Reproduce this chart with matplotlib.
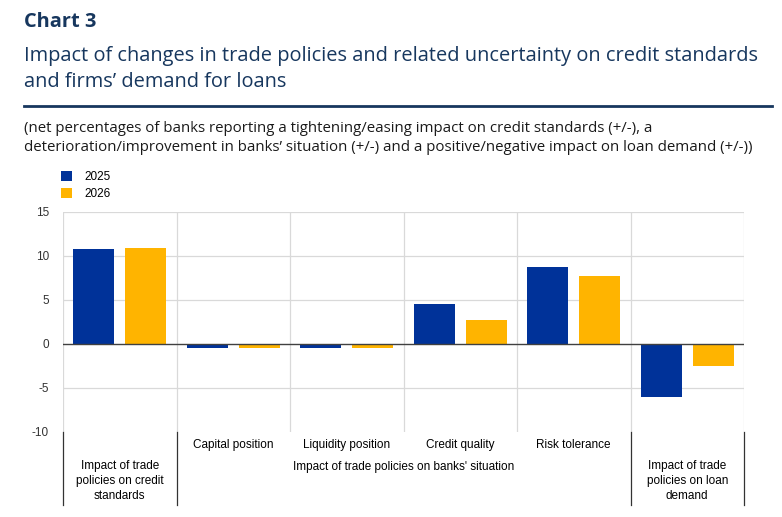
import matplotlib.pyplot as plt
import numpy as np

plt.rcParams['font.family'] = ['Liberation Sans', 'DejaVu Sans']

# data
categories = ["Impact of trade\npolicies on credit\nstandards", "Capital position", "Liquidity position",
              "Credit quality", "Risk tolerance", "Impact of trade\npolicies on loan\ndemand"]
vals_2025 = [10.8, -0.4, -0.4, 4.5, 8.7, -6.0]
vals_2026 = [10.9, -0.4, -0.4, 2.7, 7.7, -2.5]
group_label = "Impact of trade policies on banks' situation"
yticks = [-10, -5, 0, 5, 10, 15]

blue = '#003299'
yellow = '#ffb400'
navy = '#17375e'

W, H = 782, 517
fig = plt.figure(figsize=(W / 100, H / 100), dpi=100)

# header
fig.text(24 / W, 1 - 22 / H, "Chart 3", family='Open Sans', weight='bold', fontsize=14.4,
         color=navy, va='center')
fig.text(24 / W, 1 - 69 / H,
         "Impact of changes in trade policies and related uncertainty on credit standards\n"
         "and firms\u2019 demand for loans",
         family='Open Sans', fontsize=14.4, color=navy, va='center', linespacing=1.45)
fig.add_artist(plt.Line2D([24 / W, 772 / W], [1 - 106 / H, 1 - 106 / H], color=navy, lw=2))
fig.text(24 / W, 1 - 138 / H,
         "(net percentages of banks reporting a tightening/easing impact on credit standards (+/-), a\n"
         "deterioration/improvement in banks\u2019 situation (+/-) and a positive/negative impact on loan demand (+/-))",
         family='Open Sans', fontsize=10.8, color='#1a1a1a', va='center', linespacing=1.3)

# plot area
ax = fig.add_axes([63 / W, (H - 432) / H, 681 / W, 220 / H])
x = np.arange(len(categories))
bw = 0.36
ax.bar(x - 0.23, vals_2025, bw, color=blue, label='2025', zorder=3)
ax.bar(x + 0.23, vals_2026, bw, color=yellow, label='2026', zorder=3)

ax.set_xlim(-0.5, len(categories) - 0.5)
ax.set_ylim(-10, 15)
ax.set_yticks(yticks)
ax.set_yticklabels([str(t) for t in yticks], fontsize=8.5, color='#333333')
ax.tick_params(axis='y', length=0, pad=10)
ax.set_xticks([])
for s in ax.spines.values():
    s.set_visible(False)

for t in yticks[1:]:
    if t != 0:
        ax.axhline(t, color='#d9d9d9', lw=0.9, zorder=1)
for b in np.arange(-0.5, len(categories), 1.0):
    ax.axvline(b, color='#d9d9d9', lw=0.9, zorder=1)
ax.axhline(0, color='#404040', lw=1.0, zorder=4)

# category axis below
trans = ax.get_xaxis_transform()
for b in [-0.5, 0.5, 4.5, 5.5]:
    ax.plot([b, b], [0, -0.33], transform=trans, color='#333333', lw=0.9, clip_on=False)
for i in range(1, 5):
    ax.text(x[i], -0.058, categories[i], transform=trans, ha='center', va='center', fontsize=8.5)
ax.text(2.5, -0.158, group_label, transform=trans, ha='center', va='center', fontsize=8.5)
for i in [0, 5]:
    ax.text(x[i], -0.222, categories[i], transform=trans, ha='center', va='center', fontsize=8.5,
            linespacing=1.3)

# legend
leg = fig.legend(loc='upper left', bbox_to_anchor=(50 / W, 1 - 160 / H), frameon=False,
                 fontsize=8.5, handlelength=1.0, handleheight=1.0, handletextpad=1.0,
                 labelspacing=0.4)

fig.savefig('out.png', dpi=100)
